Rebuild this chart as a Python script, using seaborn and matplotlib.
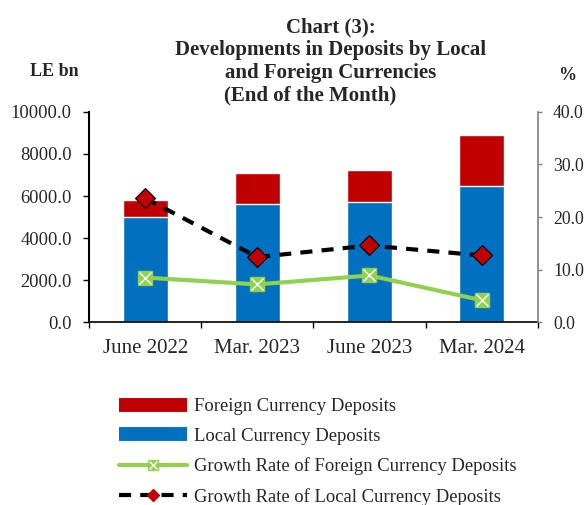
import numpy as np
import pandas as pd
import matplotlib
matplotlib.use("Agg")
import matplotlib.pyplot as plt
from matplotlib.lines import Line2D
from matplotlib.ticker import FixedLocator, FormatStrFormatter
import seaborn as sns

sns.set_style("white")
plt.rcParams["font.family"] = ["Liberation Serif", "DejaVu Serif"]

# ---------- data ------------------------------------------------------
categories = ["June 2022", "Mar. 2023", "June 2023", "Mar. 2024"]
local_deposits = [4990, 5625, 5720, 6460]          # LE bn
foreign_deposits = [825, 1470, 1515, 2440]          # LE bn
growth_foreign = [8.5, 7.2, 8.9, 4.2]               # %
growth_local = [23.6, 12.4, 14.6, 12.7]             # %

df = pd.DataFrame({
    "period": categories,
    "local": local_deposits,
    "foreign": foreign_deposits,
    "g_foreign": growth_foreign,
    "g_local": growth_local,
})
df["total"] = df["local"] + df["foreign"]
df["pos"] = np.arange(len(df))

RED = "#C00000"
BLUE = "#0070C0"
GREEN = "#92D050"

fig = plt.figure(figsize=(5.86, 5.05), dpi=100)
ax = fig.add_axes([0.152, 0.3618, 0.7655, 0.4167])

# stacked bars: total (foreign on top) then local over it
sns.barplot(data=df, x="period", y="total", color=RED, width=0.4,
            saturation=1, ax=ax, order=categories)
sns.barplot(data=df, x="period", y="local", color=BLUE, width=0.4,
            saturation=1, ax=ax, order=categories)

ax.set_xlim(-0.5, 3.5)
ax.set_ylim(0, 10000)
ax.yaxis.set_major_locator(FixedLocator(np.arange(0, 10001, 2000)))
ax.yaxis.set_major_formatter(FormatStrFormatter("%.1f"))
ax.set_xlabel("")
ax.set_ylabel("")
ax.tick_params(axis="y", labelsize=13.3, length=4.5, width=1, direction="out",
               pad=8, left=True, color="black")
ax.tick_params(axis="x", which="major", labelsize=15, length=0, pad=12)
ax.xaxis.set_minor_locator(FixedLocator(np.arange(-0.5, 3.6, 1)))
ax.tick_params(axis="x", which="minor", length=4.5, width=1, color="black",
               direction="out", bottom=True)
for s in ["top", "right"]:
    ax.spines[s].set_visible(False)
ax.spines["left"].set_color("black")
ax.spines["left"].set_linewidth(1.5)
ax.spines["bottom"].set_color("black")
ax.spines["bottom"].set_linewidth(1.2)

# ---------- growth rates on right axis --------------------------------
ax2 = ax.twinx()
sns.lineplot(data=df, x="pos", y="g_local", ax=ax2, color="black", lw=3,
             sort=False, marker=None)
ax2.lines[-1].set_dashes((2.9, 2.2))
sns.lineplot(data=df, x="pos", y="g_foreign", ax=ax2, color=GREEN, lw=3,
             sort=False, marker=None)
ax2.plot(df["pos"], df["g_foreign"], ls="none", marker="s", ms=10,
         mfc=GREEN, mec=GREEN)
ax2.plot(df["pos"], df["g_foreign"], ls="none", marker="x", ms=9,
         mec="white", mew=1)
ax2.plot(df["pos"], df["g_local"], ls="none", marker="D", ms=10,
         mfc=RED, mec="black", mew=0.8)

ax2.set_xlim(-0.5, 3.5)
ax2.set_ylim(0, 40)
ax2.yaxis.set_major_locator(FixedLocator(np.arange(0, 41, 10)))
ax2.yaxis.set_major_formatter(FormatStrFormatter("%.1f"))
ax2.set_ylabel("")
ax2.set_xlabel("")
ax2.tick_params(axis="y", labelsize=12.8, length=3, width=1, direction="out",
                pad=8, right=True, color="#808080")
for s in ["top", "left", "bottom"]:
    ax2.spines[s].set_visible(False)
ax2.spines["right"].set_color("#808080")
ax2.spines["right"].set_linewidth(1.2)

# ---------- titles ------------------------------------------------------
title_kw = dict(ha="center", va="center", fontsize=15, fontweight="bold")
fig.text(331 / 586, 1 - 27 / 505, "Chart (3):", **title_kw)
fig.text(331 / 586, 1 - 50 / 505, "Developments in Deposits by Local", **title_kw)
fig.text(331 / 586, 1 - 73 / 505, "and Foreign Currencies", **title_kw)
fig.text(310 / 586, 1 - 95 / 505, "(End of the Month)", **title_kw)
fig.text(54 / 586, 1 - 72 / 505, "LE bn", ha="center", va="center",
         fontsize=13, fontweight="bold")
fig.text(567 / 586, 1 - 76 / 505, "%", ha="center", va="center",
         fontsize=13, fontweight="bold")

# ---------- legend ------------------------------------------------------
handles = [
    Line2D([], [], color=RED, lw=10, solid_capstyle="butt"),
    Line2D([], [], color=BLUE, lw=10, solid_capstyle="butt"),
    (Line2D([], [], color=GREEN, lw=3, marker="s", ms=7, mfc=GREEN, mec=GREEN),
     Line2D([], [], ls="none", marker="x", ms=6, mec="white", mew=1)),
    Line2D([], [], color="black", lw=3, dashes=(2.9, 2.2), marker="D", ms=6,
           mfc=RED, mec=RED),
]
labels = ["Foreign Currency Deposits", "Local Currency Deposits",
          "Growth Rate of Foreign Currency Deposits",
          "Growth Rate of Local Currency Deposits"]
fig.legend(handles, labels, loc="upper left",
           bbox_to_anchor=(119 / 586, 1 - 398 / 505), frameon=False,
           fontsize=13.4, handlelength=3.65, handletextpad=0.4,
           labelspacing=0.68, borderpad=0, borderaxespad=0)

fig.savefig("out.png", dpi=100)
plt.close(fig)
